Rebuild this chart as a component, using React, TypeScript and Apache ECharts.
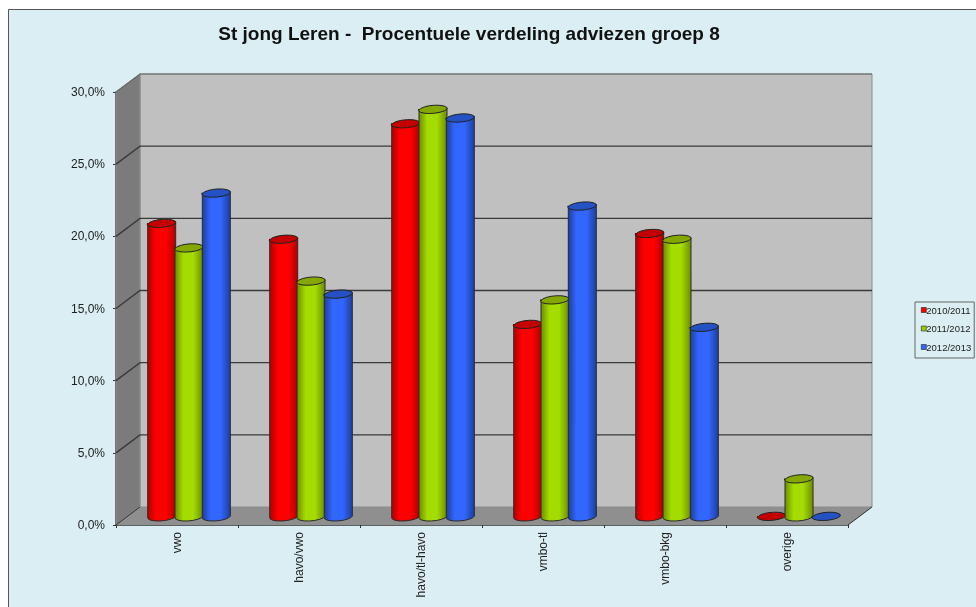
import React, { useEffect, useRef } from "react";
import * as echarts from "echarts";

const titleText = "St jong Leren -  Procentuele verdeling adviezen groep 8";
const categories = ["vwo", "havo/vwo", "havo/tl-havo", "vmbo-tl", "vmbo-bkg", "overige"];
const season1Name = "2010/2011";
const season2Name = "2011/2012";
const season3Name = "2012/2013";
const season1 = [20.3, 19.2, 27.2, 13.3, 19.6, 0];
const season2 = [18.6, 16.3, 28.2, 15.0, 19.2, 2.6];
const season3 = [22.4, 15.4, 27.6, 21.5, 13.1, 0];
const ticks = [0, 5, 10, 15, 20, 25, 30];

const DX = 24;
const DY = 18;
const RX = 14;
const RY = 4.2;
const TILT = -5;
const STEP = 27.3;
const tiltDy = RX * Math.sin((TILT * Math.PI) / 180);

const palettes = [
  { edge: "#b00000", mid: "#ff0000", top: "#c40000", legend: "#ff0000" },
  { edge: "#6c8c00", mid: "#a4dc00", top: "#84a800", legend: "#99cc00" },
  { edge: "#1c3f9e", mid: "#3366ff", top: "#2452c4", legend: "#3366ff" },
];

function renderWalls(params: any, api: any) {
  const cs = params.coordSys;
  const v = api.value(1);
  const y = api.coord([0, v])[1];
  const L = cs.x;
  const R = cs.x + cs.width;
  const T = cs.y;
  const B = cs.y + cs.height;
  const children: any[] = [];
  if (params.dataIndex === 0) {
    children.push({
      type: "polygon",
      shape: { points: [[L + DX, T - DY], [R + DX, T - DY], [R + DX, B - DY], [L + DX, B - DY]] },
      style: { fill: "#c0c0c0", stroke: "#8c8c8c", lineWidth: 1 },
    });
    children.push({
      type: "polygon",
      shape: { points: [[L, T], [L + DX, T - DY], [L + DX, B - DY], [L, B]] },
      style: { fill: "#7b7b7b", stroke: "#8c8c8c", lineWidth: 1 },
    });
    children.push({
      type: "polygon",
      shape: { points: [[L, B], [L + DX, B - DY], [R + DX, B - DY], [R, B]] },
      style: { fill: "#8f8f8f", stroke: "none" },
    });
    children.push({
      type: "polyline",
      shape: { points: [[L, B], [L + DX, B - DY]] },
      style: { stroke: "#333333", lineWidth: 1, fill: "none" },
    });
    children.push({
      type: "polyline",
      shape: { points: [[R, B], [R + DX, B - DY]] },
      style: { stroke: "#333333", lineWidth: 1, fill: "none" },
    });
  } else {
    const top = v === 30;
    children.push({
      type: "polyline",
      shape: { points: [[L, y], [L + DX, y - DY], [R + DX, y - DY]] },
      style: { stroke: top ? "#666666" : "#3a3a3a", lineWidth: top ? 1.2 : 1.4, fill: "none" },
    });
  }
  return { type: "group", children };
}

function makeCylinder(sIndex: number) {
  return (params: any, api: any) => {
    const p = palettes[sIndex];
    const c = api.coord([api.value(0), api.value(1)]);
    const b = api.coord([api.value(0), 0]);
    const cx = c[0] + DX / 2 + (sIndex - 1) * STEP;
    const topY = c[1] - DY / 2;
    const baseY = b[1] - DY / 2;
    const l = cx - RX;
    const r = cx + RX;
    const arcBase = `A${RX} ${RY} ${TILT} 0 0 ${r} ${baseY + tiltDy}`;
    const bodyPath = `M${l} ${topY - tiltDy}L${l} ${baseY - tiltDy}${arcBase}L${r} ${topY + tiltDy}Z`;
    const capPath =
      `M${l} ${topY - tiltDy}A${RX} ${RY} ${TILT} 1 1 ${r} ${topY + tiltDy}` +
      `A${RX} ${RY} ${TILT} 1 1 ${l} ${topY - tiltDy}Z`;
    const fill = new echarts.graphic.LinearGradient(0, 0, 1, 0, [
      { offset: 0, color: p.edge },
      { offset: 0.3, color: p.mid },
      { offset: 0.65, color: p.mid },
      { offset: 1, color: p.edge },
    ]);
    const children: any[] = [];
    if (api.value(1) > 0) {
      children.push({
        type: "path",
        shape: { pathData: bodyPath },
        style: { fill, stroke: "#2b2b2b", lineWidth: 1 },
      });
    }
    children.push({
      type: "path",
      shape: { pathData: capPath },
      style: { fill: p.top, stroke: "#222222", lineWidth: 1 },
    });
    return { type: "group", children };
  };
}

const toPairs = (vals: number[]) => vals.map((v, i) => [i, v]);

export default function App() {
  const ref = useRef<HTMLDivElement>(null);
  useEffect(() => {
    const chart = echarts.init(ref.current!, null, { renderer: "svg" });
    const seriesDefs = [
      { name: season1Name, values: season1 },
      { name: season2Name, values: season2 },
      { name: season3Name, values: season3 },
    ];
    chart.setOption({
      animation: false,
      backgroundColor: "transparent",
      textStyle: { fontFamily: "Liberation Sans" },
      graphic: [
        {
          type: "rect",
          z: -10,
          silent: true,
          shape: { x: 8.5, y: 9.5, width: 980, height: 610 },
          style: { fill: "#daeef3", stroke: "#555555", lineWidth: 1 },
        },
      ],
      title: {
        text: titleText,
        left: 464,
        top: 19,
        textAlign: "center",
        textStyle: { fontFamily: "Liberation Sans", fontSize: 19, fontWeight: "bold", color: "#111111" },
      },
      legend: {
        orient: "vertical",
        left: 915,
        top: 302,
        width: 58,
        padding: [3, 3, 6, 6],
        itemGap: 8.5,
        itemWidth: 5,
        itemHeight: 5,
        itemStyle: { borderWidth: 0.6, borderColor: "#222222" },
        borderColor: "#666666",
        borderWidth: 1,
        borderRadius: 0,
        icon: "rect",
        data: [season1Name, season2Name, season3Name],
        selectedMode: false,
        textStyle: { fontFamily: "Liberation Sans", fontSize: 9.5, color: "#222222", padding: [0, 0, 0, -5] },
      },
      grid: { left: 116, top: 92, width: 732, height: 433, containLabel: false },
      xAxis: {
        type: "category",
        data: categories,
        boundaryGap: true,
        axisLine: { show: true, lineStyle: { color: "#333333", width: 1.5 } },
        axisTick: { show: true, length: 3, alignWithLabel: false, lineStyle: { color: "#333333" } },
        axisLabel: { rotate: 90, interval: 0, fontSize: 12, color: "#222222", margin: 7, fontFamily: "Liberation Sans" },
      },
      yAxis: {
        type: "value",
        min: 0,
        max: 30,
        interval: 5,
        splitLine: { show: false },
        axisLine: { show: true, lineStyle: { color: "#333333", width: 1.5 } },
        axisTick: { show: true, length: 3, lineStyle: { color: "#333333" } },
        axisLabel: {
          fontSize: 12,
          color: "#222222",
          margin: 11,
          fontFamily: "Liberation Sans",
          formatter: (v: number) => v.toFixed(1).replace(".", ",") + "%",
        },
      },
      series: [
        {
          type: "custom",
          name: "walls",
          silent: true,
          clip: false,
          z: 1,
          renderItem: renderWalls,
          encode: { x: 0, y: 1 },
          data: ticks.map((t) => [0, t]),
        },
        ...seriesDefs.map((s, i) => ({
          type: "custom",
          name: s.name,
          silent: true,
          clip: false,
          z: 3 + i,
          itemStyle: { color: palettes[i].legend },
          renderItem: makeCylinder(i),
          encode: { x: 0, y: 1 },
          data: toPairs(s.values),
        })),
      ],
    });
    return () => chart.dispose();
  }, []);
  return (
    <div
      ref={ref}
      style={{
        position: "absolute",
        left: 0,
        top: 0,
        width: 976,
        height: 607,
        background: "#ffffff",
        filter: "blur(0.35px)",
      }}
    />
  );
}
